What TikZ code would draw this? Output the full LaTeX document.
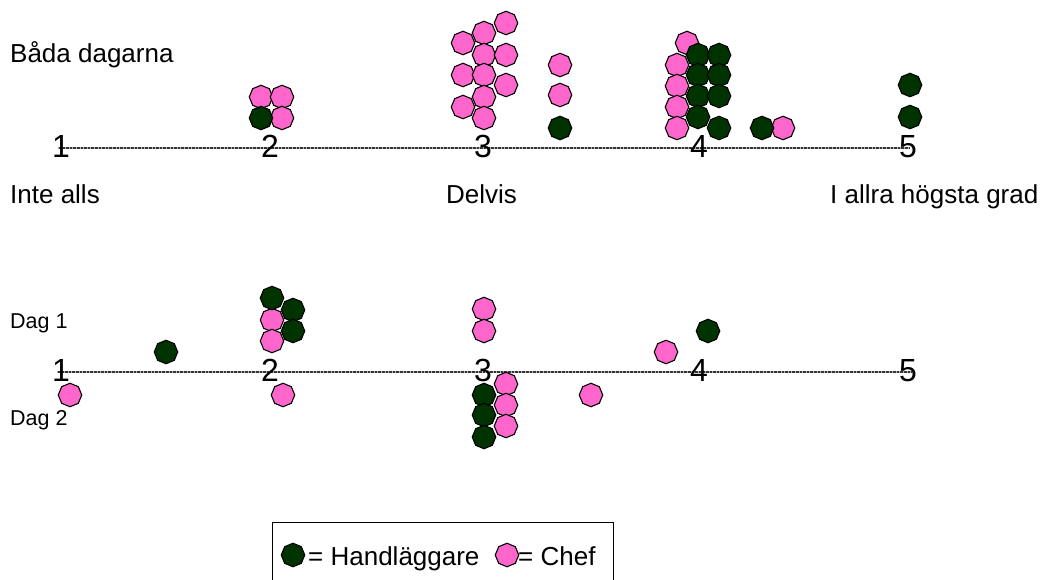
\documentclass[tikz,border=0pt]{standalone}
\usepackage{fontspec}
\setmainfont{Liberation Sans}
\usetikzlibrary{shapes.geometric}
\definecolor{hand}{RGB}{0,51,0}
\definecolor{chef}{RGB}{255,102,204}
\begin{document}
\begin{tikzpicture}[x=1pt,y=-1pt,
 dot/.style={regular polygon, regular polygon sides=8, regular polygon rotate=22.5, minimum size=23.5pt, inner sep=0pt, draw=black, line width=1.1pt},
 hd/.style={dot, fill=hand},
 cf/.style={dot, fill=chef},
 lbl/.style={inner sep=0pt, font=\fontsize{26}{30}\selectfont},
 smalllbl/.style={inner sep=0pt, font=\fontsize{21.5}{25}\selectfont},
 num/.style={inner sep=0pt, font=\fontsize{32}{38}\selectfont, anchor=base},
 axisline/.style={line width=1.5pt, draw=black!80},
 axisdots/.style={line width=1.5pt, draw=white!70!black, dash pattern=on 0.6pt off 3pt}]
\fill[white] (0,0) rectangle (1040,580);
\useasboundingbox (0,0) rectangle (1040,580);

% axes
\coordinate (ta) at (58,148);
\coordinate (tb) at (910,148);
\coordinate (ba) at (57,372);
\coordinate (bb) at (912,372);
\draw[axisline] (ta) -- (tb);
\draw[axisline] (ba) -- (bb);
\draw[axisdots] (ta) -- (tb);
\draw[axisdots] (ba) -- (bb);

% numbers
\foreach \x [count=\i] in {61,270,483,699,908} {
  \node[num] (tn\i) at (\x,158) {\i};
  \node[num] (bn\i) at (\x,381) {\i};
}

% labels
\node[lbl, anchor=base west] (both) at (10,63) {Båda dagarna};
\node[lbl, anchor=base west] (none) at (10,203) {Inte alls};
\node[lbl, anchor=base west] (part) at (446,203) {Delvis};
\node[lbl, anchor=base west] (high) at (830,203) {I allra högsta grad};
\node[smalllbl, anchor=base west] (d1) at (10,328) {Dag 1};
\node[smalllbl, anchor=base west] (d2) at (10,425) {Dag 2};

% top chart: chef
\foreach \p [count=\i] in {(261,97),(282,97),(282,118),
  (506,23),(484,33),(463,43),(484,55),(506,55),(463,75),(484,75),(506,85),(484,97),(463,107),(484,118),
  (560,65),(560,95),
  (687,43),(677,65),(677,86),(677,107),(677,128),(783,128)}
  \node[cf] (tc\i) at \p {};
% top chart: handläggare
\foreach \p [count=\i] in {(261,118),(560,128),
  (698,55),(719,55),(698,75),(719,75),(698,96),(719,96),(698,117),(719,128),
  (762,128),(910,85),(910,117)}
  \node[hd] (th\i) at \p {};

% bottom chart: chef
\foreach \p [count=\i] in {(272,320),(272,341),(70,395),(283,395),
  (484,309),(484,331),(506,384),(506,405),(506,426),(591,395),(666,352)}
  \node[cf] (bc\i) at \p {};
% bottom chart: handläggare
\foreach \p [count=\i] in {(166,352),(272,298),(293,310),(293,331),
  (484,395),(484,415),(484,437),(708,331)}
  \node[hd] (bh\i) at \p {};

% legend
\coordinate (l1) at (272,585);
\coordinate (l2) at (272,522);
\coordinate (l3) at (613,522);
\coordinate (l4) at (613,585);
\draw[line width=1pt] (l1) -- (l2) -- (l3) -- (l4);
\node[hd] (lh) at (293,555) {};
\node[lbl, anchor=base west] (lht) at (308,565) {= Handläggare};
\node[cf] (lc) at (507,555) {};
\node[lbl, anchor=base west] (lct) at (518,565) {= Chef};
\end{tikzpicture}
\end{document}
